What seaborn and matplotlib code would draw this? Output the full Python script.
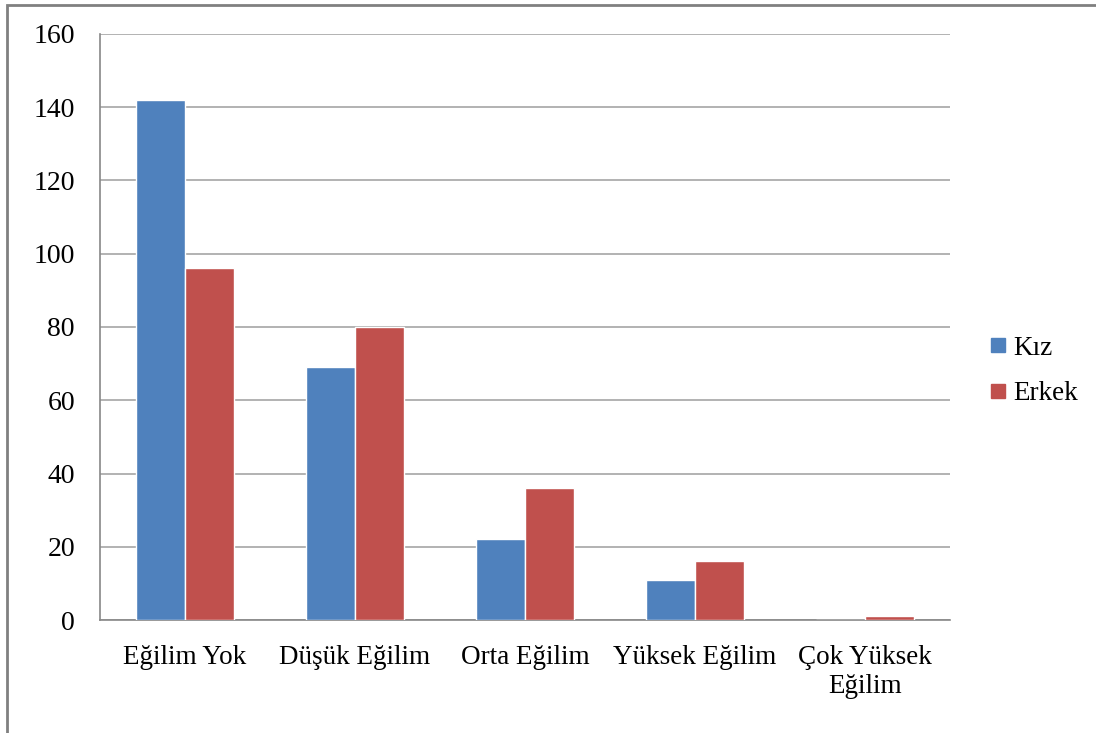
import matplotlib
matplotlib.use("Agg")
import matplotlib.pyplot as plt
import seaborn as sns
import pandas as pd
from matplotlib.patches import Rectangle
from matplotlib.lines import Line2D

categories = ["Eğilim Yok", "Düşük Eğilim", "Orta Eğilim", "Yüksek Eğilim", "Çok Yüksek\nEğilim"]
kiz = [142, 69, 22, 11, 0]
erkek = [96, 80, 36, 16, 1]
series = ["Kız", "Erkek"]
colors = ["#4F81BD", "#C0504D"]

df = pd.DataFrame({
    "kategori": categories * 2,
    "deger": kiz + erkek,
    "cinsiyet": [series[0]] * len(kiz) + [series[1]] * len(erkek),
})

sns.set_style("white")
plt.rcParams["font.family"] = ["Liberation Serif", "DejaVu Serif"]
plt.rcParams["text.color"] = "black"
plt.rcParams["xtick.color"] = "black"
plt.rcParams["ytick.color"] = "black"

fig = plt.figure(figsize=(10.96, 7.33), dpi=100)
ax = fig.add_axes([100 / 1096, 1 - 620 / 733, 850 / 1096, 586 / 733])

sns.barplot(data=df, x="kategori", y="deger", hue="cinsiyet", palette=colors,
            width=0.58, gap=0, saturation=1, ax=ax, legend=False, zorder=3)

ax.set_ylim(0, 160)
ax.set_xlim(-0.5, len(categories) - 0.5)
ax.set_yticks(range(0, 161, 20))
ax.yaxis.grid(True, color="#A6A6A6", linewidth=1.2, zorder=0)
ax.set_xlabel("")
ax.set_ylabel("")

ax.set_xticks(range(len(categories)))
ax.set_xticklabels(categories, fontsize=19.5, linespacing=1.2)
ax.set_xticks([i - 0.5 for i in range(len(categories) + 1)], minor=True)
ax.tick_params(axis="x", which="major", length=0, pad=18)
ax.tick_params(axis="x", which="minor", length=7, color="#888888", width=1.2, direction="out")
ax.tick_params(axis="y", length=6, color="#888888", width=1.2, direction="out", labelsize=20, pad=12)

for s in ["top", "right"]:
    ax.spines[s].set_visible(False)
for s in ["left", "bottom"]:
    ax.spines[s].set_color("#888888")
    ax.spines[s].set_linewidth(1.2)

handles = [Line2D([], [], marker="s", linestyle="", markersize=10, color=c) for c in colors]
fig.legend(handles, series, loc="center left", bbox_to_anchor=(960 / 1096, 1 - 371 / 733),
           frameon=False, fontsize=19.5, handletextpad=0.05, labelspacing=0.75, handlelength=1.0)

fig.patches.append(Rectangle((7 / 1096, -0.01), 1.02, 1 - 5 / 733 + 0.01, transform=fig.transFigure,
                             fill=False, edgecolor="#808080", linewidth=2))

fig.savefig("out.png", dpi=100)
